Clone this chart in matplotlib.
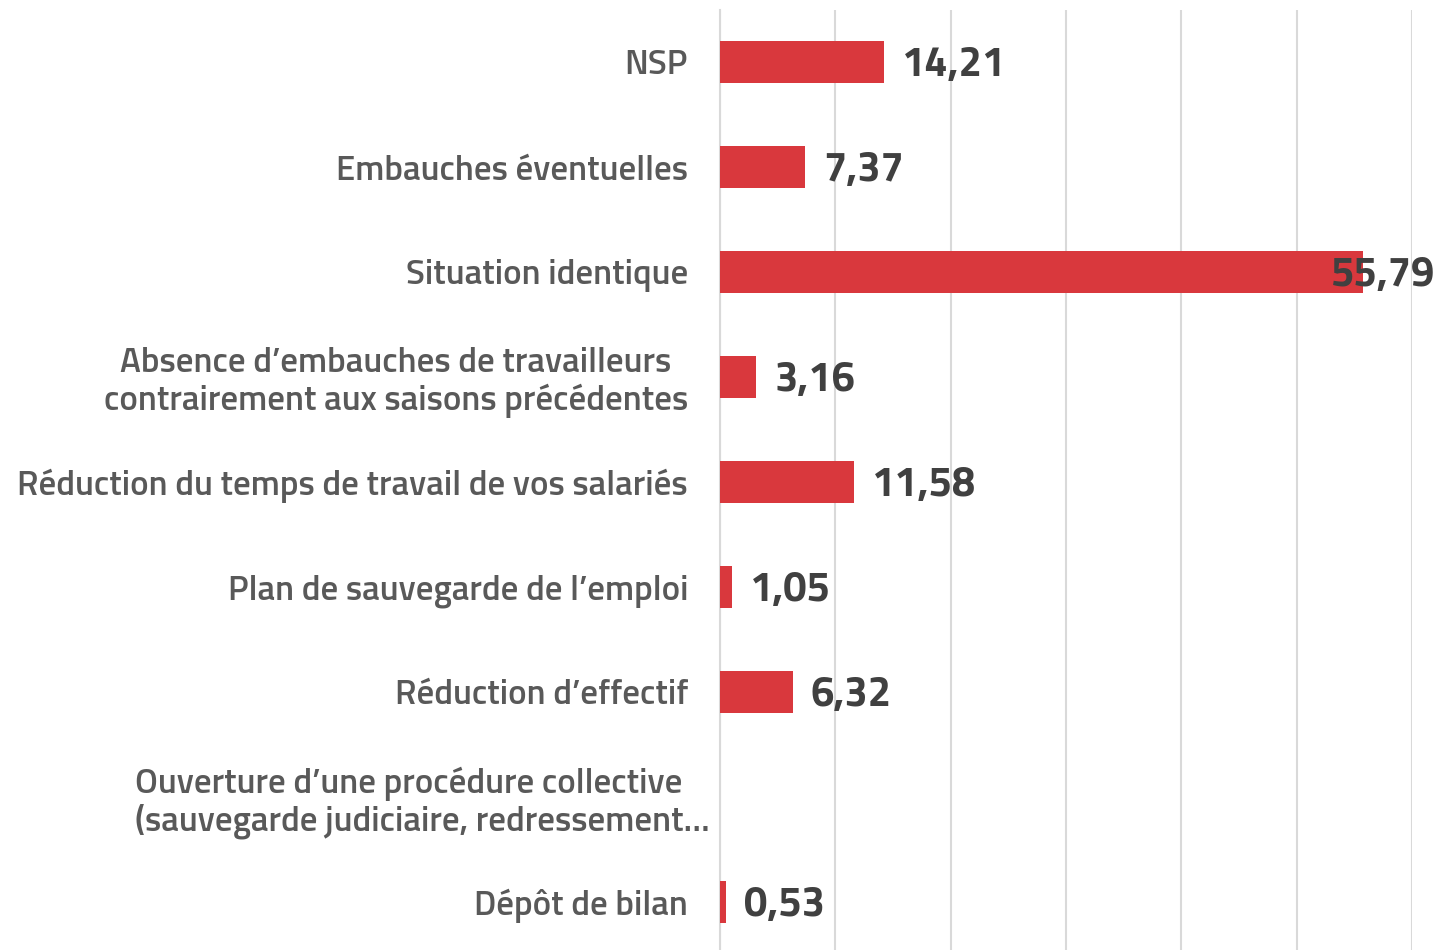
import matplotlib
matplotlib.use("Agg")
import matplotlib.pyplot as plt
import matplotlib.transforms as mtransforms
import numpy as np
from matplotlib import font_manager

names = {f.name for f in font_manager.fontManager.ttflist}
fam = next((n for n in ["Titillium Web", "Fira Sans Condensed", "Roboto Condensed",
                        "Liberation Sans Narrow"] if n in names), "DejaVu Sans")
plt.rcParams['font.family'] = [fam, 'DejaVu Sans']

categories = [
    "NSP",
    "Embauches éventuelles",
    "Situation identique",
    "Absence d’embauches de travailleurs\ncontrairement aux saisons précédentes",
    "Réduction du temps de travail de vos salariés",
    "Plan de sauvegarde de l’emploi",
    "Réduction d’effectif",
    "Ouverture d’une procédure collective\n(sauvegarde judiciaire, redressement…",
    "Dépôt de bilan",
]
values = [14.21, 7.37, 55.79, 3.16, 11.58, 1.05, 6.32, np.nan, 0.53]
value_labels = ["14,21", "7,37", "55,79", "3,16", "11,58", "1,05", "6,32", "", "0,53"]

W, H = 1450, 950
fig = plt.figure(figsize=(14.5, 9.5), dpi=100)
ax = fig.add_axes([720 / W, -4.5 / H, (1412 - 720) / W, 945 / H])

y = np.arange(len(categories))
bar_vals = np.nan_to_num(values, nan=0.0)
ax.barh(y, bar_vals, height=0.4, color="#d9383d", zorder=3)

ax.set_xlim(0, 60)
ax.set_ylim(len(categories) - 0.5, -0.5)
ax.set_xticks(np.arange(0, 61, 10))
ax.xaxis.grid(True, color="#d9d9d9", linewidth=1.5, zorder=0)
ax.tick_params(axis="x", length=0, labelbottom=False)
ax.tick_params(axis="y", length=0, pad=23)
for s in ["top", "right", "bottom"]:
    ax.spines[s].set_visible(False)
ax.spines["left"].set_color("#d9d9d9")
ax.spines["left"].set_linewidth(1.5)

ax.set_yticks(y)
ax.set_yticklabels(categories, fontsize=25, color="#595959", fontweight="semibold",
                   linespacing=1.12)
for lab in ax.get_yticklabels():
    lab.set_multialignment("center")
# the truncated label is left-aligned and spills past the others
trunc = ax.get_yticklabels()[7]
trunc.set_multialignment("left")
trunc.set_transform(trunc.get_transform() + mtransforms.ScaledTranslation(22 / 100, 0, fig.dpi_scale_trans))

vmax = np.nanmax(values)
blend = mtransforms.blended_transform_factory(fig.transFigure, ax.transData)
down = mtransforms.ScaledTranslation(0, -4 / 100, fig.dpi_scale_trans)
for yi, v, txt in zip(y, values, value_labels):
    if np.isnan(v):
        continue
    if v == vmax:
        ax.text(1435 / W, yi, txt, transform=blend + down, ha="right", va="center",
                fontsize=30, fontweight="bold", color="#404040", zorder=4)
    else:
        ax.annotate(txt, (v, yi), xytext=(13, -3), textcoords="offset points",
                    ha="left", va="center", fontsize=30, fontweight="bold",
                    color="#404040", zorder=4)

fig.savefig("out.png", dpi=100)
